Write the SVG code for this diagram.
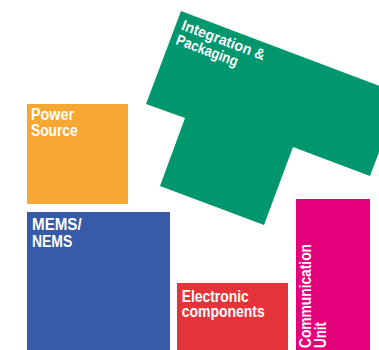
<svg xmlns="http://www.w3.org/2000/svg" width="379" height="350" viewBox="0 0 379 350">
<style>
.lbl{font-family:"Liberation Sans",Arial,sans-serif;font-weight:bold;font-size:16px;fill:#ffffff}
.lbl2{font-family:"Liberation Sans",Arial,sans-serif;font-weight:bold;font-size:15px;fill:#ffffff}
</style>
<rect width="379" height="350" fill="#ffffff"/>
<g id="integration">
<polygon points="181,11 401,94 370,176 293,147 264,225 160,186 185,118 146,104" fill="#00966E"/>
<g transform="translate(181,11) rotate(20.6)">
<text class="lbl2" x="6" y="17.3" textLength="88" lengthAdjust="spacingAndGlyphs">Integration &amp;</text>
<text class="lbl2" x="6" y="32.8" textLength="65" lengthAdjust="spacingAndGlyphs">Packaging</text>
</g>
</g>
<g id="power">
<rect x="27" y="104" width="101" height="100" fill="#F6A832"/>
<text class="lbl" x="31" y="120" textLength="43" lengthAdjust="spacingAndGlyphs">Power</text>
<text class="lbl" x="31" y="136" textLength="46.7" lengthAdjust="spacingAndGlyphs">Source</text>
</g>
<g id="mems">
<rect x="27" y="212" width="143" height="138" fill="#385BA7"/>
<text class="lbl" x="32" y="230" textLength="49.7" lengthAdjust="spacingAndGlyphs">MEMS/</text>
<text class="lbl" x="32" y="246.5" textLength="40.3" lengthAdjust="spacingAndGlyphs">NEMS</text>
</g>
<g id="electronic">
<rect x="177" y="283" width="111" height="67" fill="#E5333A"/>
<text class="lbl" x="181.7" y="301.7" textLength="67" lengthAdjust="spacingAndGlyphs">Electronic</text>
<text class="lbl" x="181.7" y="317" textLength="83" lengthAdjust="spacingAndGlyphs">components</text>
</g>
<g id="communication">
<rect x="296" y="199" width="74" height="151" fill="#E2007B"/>
<g transform="translate(311,348) rotate(-90)">
<text class="lbl" x="0" y="0" textLength="104" lengthAdjust="spacingAndGlyphs">Communication</text>
<text class="lbl" x="0" y="15" textLength="26" lengthAdjust="spacingAndGlyphs">Unit</text>
</g>
</g>
<g id="connectors"></g>
</svg>
